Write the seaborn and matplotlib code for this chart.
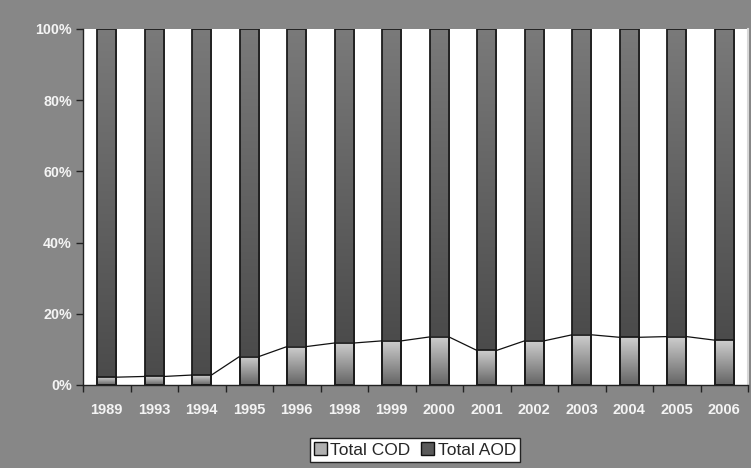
import numpy as np
import pandas as pd
import matplotlib
matplotlib.use("Agg")
import matplotlib.pyplot as plt
import seaborn as sns
from matplotlib.colors import LinearSegmentedColormap
from matplotlib.patches import Patch

years = ["1989", "1993", "1994", "1995", "1996", "1998", "1999",
         "2000", "2001", "2002", "2003", "2004", "2005", "2006"]
cod_pct = [2.2, 2.4, 2.8, 8.0, 10.8, 11.8, 12.4, 13.5, 9.7, 12.4, 14.1, 13.4, 13.6, 12.6]
aod_pct = [100 - c for c in cod_pct]
y_ticks = [0, 20, 40, 60, 80, 100]
y_labels = ["0%", "20%", "40%", "60%", "80%", "100%"]
series_names = ["Total COD", "Total AOD"]

df = pd.DataFrame({"year": years, "COD": cod_pct,
                   "Total": [c + a for c, a in zip(cod_pct, aod_pct)]})

sns.set_style("white")
plt.rcParams["font.family"] = ["Liberation Sans", "DejaVu Sans"]

BG = "#878787"
fig = plt.figure(figsize=(7.51, 4.68), dpi=100, facecolor=BG)
ax = fig.add_axes([83 / 751, 83 / 468, 665 / 751, 356 / 468])
ax.set_facecolor("white")

bw = 0.41
sns.barplot(data=df, x="year", y="Total", color="#555555", width=bw,
            saturation=1, ax=ax, zorder=2)
sns.barplot(data=df, x="year", y="COD", color="#aaaaaa", width=bw,
            saturation=1, ax=ax, zorder=3)

n = len(years)
tot_patches = ax.patches[:n]
cod_patches = ax.patches[n:2 * n]

aod_cmap = LinearSegmentedColormap.from_list("aod", ["#4b4b4b", "#7a7a7a"])
cod_cmap = LinearSegmentedColormap.from_list("cod", ["#646464", "#cfcfcf"])
grad = np.linspace(0, 1, 256).reshape(-1, 1)

for tp, cp in zip(tot_patches, cod_patches):
    x0 = tp.get_x()
    w = tp.get_width()
    ch = cp.get_height()
    th = tp.get_height()
    ax.imshow(grad, cmap=aod_cmap, origin="lower", aspect="auto",
              extent=(x0, x0 + w, ch, th), zorder=1.5, interpolation="bilinear")
    ax.imshow(grad, cmap=cod_cmap, origin="lower", aspect="auto",
              extent=(x0, x0 + w, 0, ch), zorder=1.6, interpolation="bilinear")
    for p in (tp, cp):
        p.set_facecolor("none")
        p.set_edgecolor("#1c1c1c")
        p.set_linewidth(1.3)

# series lines connecting COD tops
for i in range(n - 1):
    a = cod_patches[i]
    b = cod_patches[i + 1]
    ax.plot([a.get_x() + a.get_width(), b.get_x()],
            [a.get_height(), b.get_height()],
            color="#111111", lw=0.9, zorder=4, solid_capstyle="butt")

ax.set_xlim(-0.5, n - 0.5)
ax.set_ylim(0, 100)
ax.set_yticks(y_ticks)
ax.set_yticklabels(y_labels)
ax.set_xlabel("")
ax.set_ylabel("")

ax.set_xticks(range(n))
ax.set_xticklabels(years)
ax.set_xticks(np.arange(-0.5, n, 1.0), minor=True)

lab_col = "#f4f4f4"
ax.tick_params(axis="x", which="major", length=0, pad=13,
               labelsize=10.5, labelcolor=lab_col)
ax.tick_params(axis="x", which="minor", length=5, width=1, color="#222222",
               direction="out", bottom=True)
ax.tick_params(axis="y", which="major", length=5, width=1, color="#222222",
               direction="out", left=True, pad=3, labelsize=10.3, labelcolor=lab_col)
for lbl in ax.get_xticklabels() + ax.get_yticklabels():
    lbl.set_fontweight("bold")

for s in ["left", "bottom"]:
    ax.spines[s].set_color("#222222")
    ax.spines[s].set_linewidth(1.0)
ax.spines["top"].set_visible(False)
ax.spines["right"].set_color("#d8d8d8")
ax.spines["right"].set_linewidth(1.5)

handles = [Patch(facecolor="#b0b0b0", edgecolor="#111111", lw=1.0),
           Patch(facecolor="#5a5a5a", edgecolor="#111111", lw=1.0)]
leg = fig.legend(handles, series_names, loc="center",
                 bbox_to_anchor=(415 / 751, 1 - 450 / 468), ncol=2,
                 frameon=True, fancybox=False, edgecolor="#222222",
                 framealpha=1, fontsize=12.5, handlelength=0.75,
                 handleheight=0.75, handletextpad=0.2, columnspacing=0.6,
                 borderpad=0.25, borderaxespad=0)
leg.get_frame().set_linewidth(1.0)

fig.savefig("out.png", dpi=100, facecolor=BG)
